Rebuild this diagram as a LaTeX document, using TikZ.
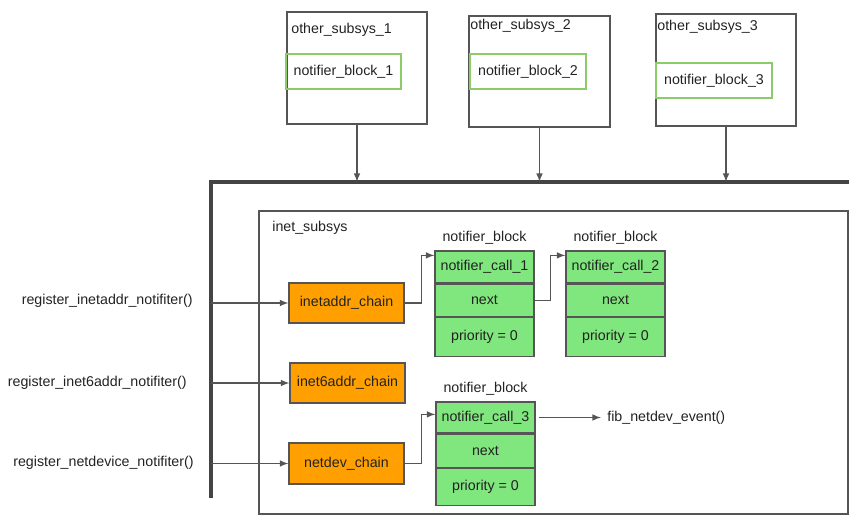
\documentclass[tikz,border=0pt]{standalone}
\usepackage{fontspec}
\setmainfont{Liberation Sans}
\usepackage{xcolor}
\usepackage{tikz}
\usetikzlibrary{positioning, arrows}
\definecolor{linegray}{HTML}{555555}
\definecolor{textgray}{HTML}{222222}
\definecolor{chainorange}{HTML}{FFA000}
\definecolor{blockgreen}{HTML}{80E67E}
\definecolor{nbgreen}{HTML}{8CCB6A}
\tikzstyle{subsys} = [rectangle, draw=linegray, line width=0.7pt, minimum width=2.8cm, minimum height=2.24cm, inner sep=0pt]
\tikzstyle{nblock} = [rectangle, draw=nbgreen, line width=0.7pt, minimum width=2.3cm, minimum height=0.7cm, inner sep=0pt]
\tikzstyle{chain} = [rectangle, draw=linegray, line width=0.7pt, fill=chainorange, minimum width=2.3cm, minimum height=0.8cm, inner sep=0pt]
\tikzstyle{field} = [rectangle, draw=linegray, line width=0.7pt, fill=blockgreen, minimum width=1.98cm, minimum height=0.64cm, inner sep=0pt]
\tikzstyle{plaintext} = [inner sep=0pt, text=textgray]
\tikzstyle{arrow} = [draw=linegray, line width=0.7pt, ->, >=latex]
\tikzstyle{bus} = [draw=linegray!80!black, line width=1.8pt]

\begin{document}
\begin{tikzpicture}[x=0.02cm, y=-0.02cm, font=\fontsize{8.1}{9.7}\selectfont, text=textgray]
			\useasboundingbox (0,0) rectangle (865,526);
			% Other subsystems
			\node (subsys_1) [subsys] at (357,68) {};
			\node (subsys_2) [subsys, minimum width=2.82cm, minimum height=2.22cm] at (539.5,71.5) {};
			\node (subsys_3) [subsys] at (726,70) {};
			\node (subsys_1_name) [plaintext, anchor=west] at (291,30) {other\_subsys\_1};
			\node (subsys_2_name) [plaintext, anchor=west] at (470,26) {other\_subsys\_2};
			\node (subsys_3_name) [plaintext, anchor=west] at (657,27) {other\_subsys\_3};
			\node (nb_1) [nblock] at (343.5,71.5) {notifier\_block\_1};
			\node (nb_2) [nblock, minimum width=2.32cm] at (528,71.5) {notifier\_block\_2};
			\node (nb_3) [nblock, minimum width=2.32cm] at (714,80.5) {notifier\_block\_3};
			
			% Bus
			\coordinate (bus_nw) at (211,182);
			\coordinate (bus_ne) at (849,182);
			\coordinate (bus_sw) at (211,498);
			\draw [bus] (bus_ne) -- (bus_nw) -- (bus_sw);
			
			% inet subsystem
			\node (inet_subsys) [rectangle, draw=linegray, line width=0.7pt, minimum width=11.78cm, minimum height=6.06cm, inner sep=0pt] at (553.5,362.5) {};
			\node (inet_subsys_name) [plaintext, anchor=west] at (272,228) {inet\_subsys};
			
			\node (inetaddr_chain) [chain] at (346.5,303) {inetaddr\_chain};
			\node (inet6addr_chain) [chain] at (347.5,383) {inet6addr\_chain};
			\node (netdev_chain) [chain, minimum height=0.82cm] at (346.5,463.5) {netdev\_chain};
			
			\node (reg_inetaddr) [plaintext, anchor=east] at (193,301) {register\_inetaddr\_notifiter()};
			\node (reg_inet6addr) [plaintext, anchor=east] at (187,383) {register\_inet6addr\_notifiter()};
			\node (reg_netdev) [plaintext, anchor=east] at (194,463) {register\_netdevice\_notifiter()};
			
			% notifier blocks
			\node (call_1) [field] at (484.5,267) {notifier\_call\_1};
			\node (next_1) [field, below=0pt of call_1] {next};
			\node (prio_1) [field, below=0pt of next_1, minimum height=0.78cm] {priority = 0};
			\node (nb_name_1) [plaintext, above=0.12cm of call_1] {notifier\_block};
			
			\node (call_2) [field] at (615.5,267) {notifier\_call\_2};
			\node (next_2) [field, below=0pt of call_2] {next};
			\node (prio_2) [field, below=0pt of next_2, minimum height=0.78cm] {priority = 0};
			\node (nb_name_2) [plaintext, above=0.12cm of call_2] {notifier\_block};
			
			\node (call_3) [field, minimum height=0.62cm] at (485.5,417.5) {notifier\_call\_3};
			\node (next_3) [field, below=0pt of call_3, minimum height=0.66cm] {next};
			\node (prio_3) [field, below=0pt of next_3, minimum height=0.74cm] {priority = 0};
			\node (nb_name_3) [plaintext, above=0.12cm of call_3] {notifier\_block};
			
			\node (fib_event) [plaintext, anchor=west] at (607,418) {fib\_netdev\_event()};
			
			% Arrows
			\draw [arrow] (subsys_1.south) -- (subsys_1.south |- bus_nw);
			\draw [arrow] (subsys_2.south) -- (subsys_2.south |- bus_nw);
			\draw [arrow] (subsys_3.south) -- (subsys_3.south |- bus_nw);
			
			\draw [arrow] (bus_nw |- inetaddr_chain) -- (inetaddr_chain);
			\draw [arrow] (bus_nw |- inet6addr_chain) -- (inet6addr_chain);
			\draw [arrow] (bus_nw |- netdev_chain) -- (netdev_chain);
			
			\draw [arrow] (inetaddr_chain.east) -- ++(17,0) |- ([yshift=-0.1cm]call_1.north west);
			\draw [arrow] (next_1.east) -- ++(16,0) |- ([yshift=-0.1cm]call_2.north west);
			\draw [arrow] (netdev_chain.east) -- ++(17,0) |- ([yshift=-0.26cm]call_3.north west);
			\draw [arrow] ([xshift=0.06cm]call_3.east) -- ([xshift=-0.12cm]call_3.east -| fib_event.west);
		\end{tikzpicture}
\end{document}
